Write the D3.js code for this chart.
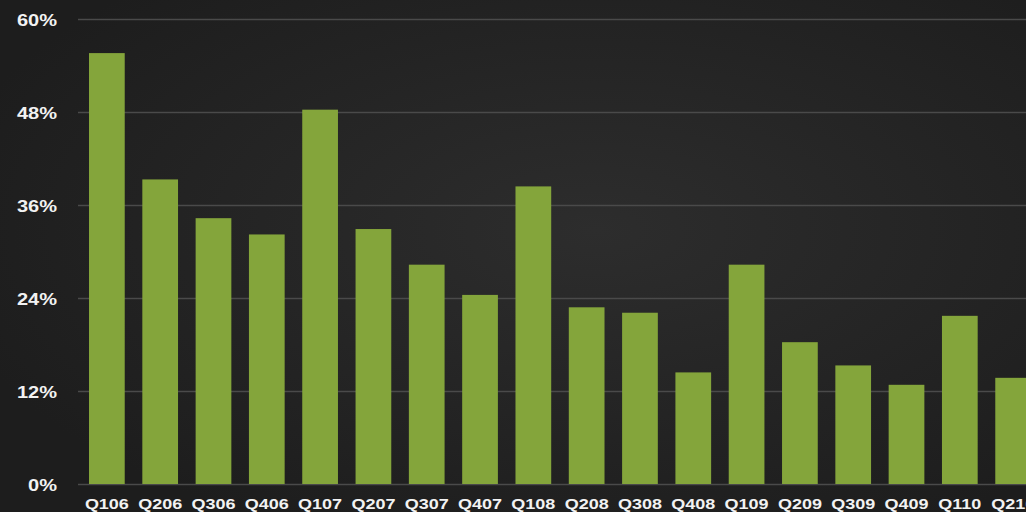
<!DOCTYPE html>
<html><head><meta charset="utf-8">
<script src="https://cdn.jsdelivr.net/npm/d3@7"></script>
<style>html,body{margin:0;padding:0;background:#222;overflow:hidden}</style>
</head><body>
<svg id="c" width="1026" height="512"></svg>
<script>
const categories = ["Q106","Q206","Q306","Q406","Q107","Q207","Q307","Q407","Q108","Q208","Q308","Q408","Q109","Q209","Q309","Q409","Q110","Q210"];
const values = [55.6,39.3,34.3,32.2,48.3,32.9,28.3,24.4,38.4,22.8,22.1,14.4,28.3,18.3,15.3,12.8,21.7,13.7];
const yTicks = [0,12,24,36,48,60];

const W = 1026, H = 512;
const svg = d3.select("#c");
const defs = svg.append("defs");
const rg = defs.append("radialGradient").attr("id","bg")
  .attr("cx","0.58").attr("cy","0.45").attr("r","0.65");
rg.append("stop").attr("offset","0").attr("stop-color","#2d2d2d");
rg.append("stop").attr("offset","1").attr("stop-color","#1d1d1d");
svg.append("rect").attr("width",W).attr("height",H).attr("fill","url(#bg)");

const y = d3.scaleLinear().domain([0,60]).range([484,19]);
const x = d3.scaleBand().domain(categories).range([80,1040]).paddingInner(0.33).paddingOuter(0.169);

// grid
const yAxis = d3.axisLeft(y).tickValues(yTicks).tickSize(-(W-78)).tickFormat(d=>d+"%");
const gy = svg.append("g").attr("transform","translate(78,0)").call(yAxis);
gy.select(".domain").remove();
gy.selectAll(".tick line").attr("stroke","#4a4a4a").attr("stroke-width",1.5);
gy.selectAll(".tick text").remove();

// y labels
svg.append("g").selectAll("g").data(yTicks).join("g")
  .attr("transform",d=>`translate(57,${y(d)+1}) scale(1.25,1)`)
  .append("text")
  .attr("text-anchor","end").attr("dy","0.36em")
  .attr("fill","#f2f2f2").attr("font-family","'Liberation Sans', Arial, sans-serif")
  .attr("font-weight","bold").attr("font-size","16px")
  .text(d=>d+"%");

// bars
svg.append("g").selectAll("rect").data(values).join("rect")
  .attr("x",(d,i)=>x(categories[i]))
  .attr("width",x.bandwidth())
  .attr("y",d=>y(d))
  .attr("height",d=>y(0)-y(d))
  .attr("fill","#84a53b");

// x labels
const xAxis = d3.axisBottom(x).tickSize(0).tickPadding(0);
const gx = svg.append("g").attr("transform","translate(0,484)").call(xAxis);
gx.select(".domain").remove();
gx.selectAll(".tick text").remove();
gx.selectAll(".tick").append("g").attr("transform","translate(0,25) scale(1.2,1)")
  .append("text")
  .attr("text-anchor","middle")
  .attr("fill","#f2f2f2").attr("font-family","'Liberation Sans', Arial, sans-serif")
  .attr("font-weight","bold").attr("font-size","15px")
  .text(d=>d);
</script>
</body></html>
